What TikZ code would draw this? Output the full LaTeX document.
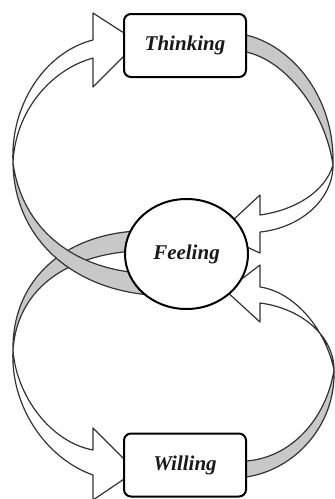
\documentclass[tikz,border=0pt]{standalone}
\usepackage{fontspec}
\setmainfont{Liberation Serif}
\usetikzlibrary{positioning,shapes.geometric}
\definecolor{ribGray}{HTML}{C8C8C8}
\definecolor{ribLine}{HTML}{333333}
\tikzset{
  ribbon/.style={draw=ribLine, line width=1.2pt, line join=round},
  stagebox/.style={draw, line width=2pt, rounded corners=7pt, fill=white,
    minimum width=122pt, minimum height=63pt, inner sep=0pt,
    font=\fontsize{21}{25}\selectfont\bfseries\itshape, text=black!90},
  stageround/.style={stagebox, ellipse, minimum width=123pt, minimum height=110pt}
}

\begin{document}
\begin{tikzpicture}[x=1pt,y=-1pt]
  \useasboundingbox (0,0) rectangle (335,499);
  \draw[ribbon, fill=ribGray] (13,350) .. controls (12,285) and (58,236) .. (136,231)
    -- (134,251) .. controls (62,256) and (17,292) .. (13,350) -- cycle;
  \draw[ribbon, fill=ribGray] (13,163) .. controls (22,228) and (72,268) .. (140,273)
    -- (150,295) .. controls (68,288) and (14,235) .. (13,163) -- cycle;
  \draw[ribbon, fill=white] (13,163) .. controls (10,105) and (45,52) .. (93,40)
    -- (93,13) -- (138,42) -- (93,87) -- (93,58)
    .. controls (50,70) and (15,112) .. (13,163) -- cycle;
  \draw[ribbon, fill=white] (13,350) .. controls (16,395) and (50,442) .. (93,450)
    -- (93,428) -- (136,471) -- (93,500) -- (93,475)
    .. controls (45,458) and (10,405) .. (13,350) -- cycle;
  \draw[ribbon, fill=ribGray] (240,35) -- (246,35) .. controls (290,45) and (335,95) .. (333,165)
    .. controls (325,110) and (285,60) .. (246,52) -- (240,52) -- cycle;
  \draw[ribbon, fill=white] (333,165) .. controls (333,200) and (300,228) .. (260,232)
    -- (260,253) -- (218,234) -- (260,195) -- (260,215)
    .. controls (295,210) and (325,192) .. (333,165) -- cycle;
  \draw[ribbon, fill=ribGray] (334,370) .. controls (336,425) and (295,470) .. (246,477)
    -- (240,477) -- (240,461) -- (246,461) .. controls (290,458) and (326,420) .. (334,370) -- cycle;
  \draw[ribbon, fill=white] (334,370) .. controls (326,330) and (295,292) .. (260,287)
    -- (260,265) -- (226,291) -- (260,322) -- (260,303)
    .. controls (300,308) and (334,335) .. (334,370) -- cycle;

  \node[stagebox] (think) at (185,45.5) {Thinking};
  \node[stageround] (feel) at (186.5,254) {Feeling};
  \node[stagebox] (will) at (185,465) {Willing};
\end{tikzpicture}
\end{document}
